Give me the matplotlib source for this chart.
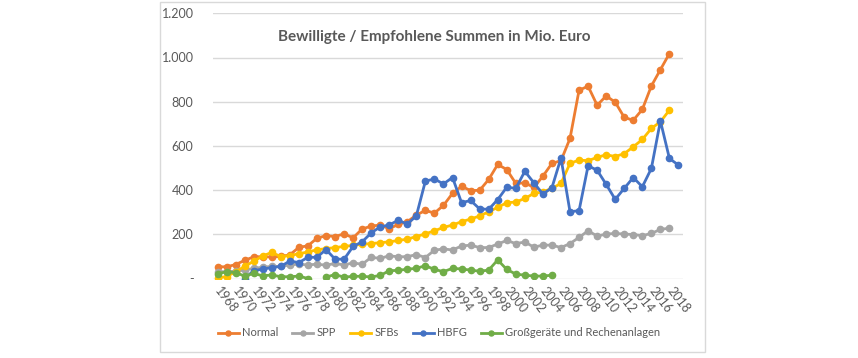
import numpy as np
import matplotlib
matplotlib.use("Agg")
import matplotlib.pyplot as plt
from matplotlib.patches import Rectangle

nan = np.nan

# Jahre 1968 - 2019
years = list(range(1968, 2020))

normal = [53, 53, 63, 82, 98, 99, 97, 100, 107, 141, 148, 182, 194, 190, 202, 184,
          224, 237, 242, 225, 245, 257, 287, 308, 296, 331,
          385, 417, 398, 399, 448, 516, 493, 430, 433, 412, 463, 521, 533,
          634, 852, 870, 784, 826, 798, 729, 716, 765, 871, 945, 1018, nan]

spp = [31, 31, 33, 38, 46, 51, 55, 55, 61, 65, 61, 65, 60, 68, 61, 71, 64, 96, 91,
       103, 98, 99, 108, 95, 128, 134,
       129, 147, 151, 140, 140, 156, 172, 158, 165, 142, 151, 151, 140,
       158, 186, 216, 192, 201, 204, 201, 199, 194, 204, 222, 228, nan]

sfbs = [2, 9, 30, 55, 78, 102, 118, 99, 104, 112, 120, 130, 135, 140, 145, 150, 155,
        158, 162, 166, 172, 178, 190, 202, 216, 231,
        242, 257, 269, 283, 302, 322, 343, 346, 362, 385, 392, 408, 430,
        521, 536, 533, 548, 560, 552, 565, 596, 629, 679, 709, 762, nan]

hbfg = [nan, nan, nan, 0, 35, 43, 49, 55, 79, 72, 96, 96, 131, 88, 87, 145, 166,
        206, 234, 242, 264, 246, 284, 441, 450, 428,
        457, 343, 353, 315, 313, 357, 413, 408, 485, 433, 382, 411, 545,
        302, 307, 510, 490, 426, 358, 408, 457, 415, 498, 713, 543, 513]

grossgeraete = [22, 30, 27, 11, 23, 12, 16, 8, 8, 11, 0, nan, 6, 18, 6, 10, 10, 7,
                14, 35, 37, 42, 46, 58, 41, 31,
                46, 43, 38, 33, 38, 84, 41, 20, 15, 11, 11, 15] + [nan] * 14

series = [("Normal", normal, "#ED7D31"),
          ("SPP", spp, "#A5A5A5"),
          ("SFBs", sfbs, "#FFC000"),
          ("HBFG", hbfg, "#4472C4"),
          ("Großgeräte und Rechenanlagen", grossgeraete, "#70AD47")]

yticks = [0, 200, 400, 600, 800, 1000, 1200]
ytick_labels = ["-", "200", "400", "600", "800", "1.000", "1.200"]

plt.rcParams['font.family'] = ['Lato', 'DejaVu Sans']
txt_col = "#595959"

fig = plt.figure(figsize=(8.58, 3.58), dpi=100)
ax = fig.add_axes([213/858, 1-278.5/358, 470/858, (278.5-13.3)/358])

x = np.arange(len(years))
for name, vals, col in series:
    ax.plot(x, np.array(vals, dtype=float), color=col, lw=2, marker='o',
            markersize=4.5, label=name)

ax.set_xlim(-0.5, len(years) - 0.5)
ax.set_ylim(0, 1200)
ax.set_yticks(yticks)
ax.set_yticklabels(ytick_labels)
ax.yaxis.grid(True, color="#D9D9D9", lw=1)
ax.set_axisbelow(True)
for s in ax.spines.values():
    s.set_visible(False)

ax.set_xticks(x[:-1:2])
ax.set_xticklabels([str(y) for y in years[:-1:2]], rotation=-52,
                   rotation_mode='anchor', ha='left', va='center')
ax.tick_params(axis='x', length=0, pad=7, labelsize=9, labelcolor=txt_col)
ax.tick_params(axis='y', length=0, pad=14, labelsize=9, labelcolor=txt_col)

fig.text(434/858, 1-37/358, "Bewilligte / Empfohlene Summen in Mio. Euro",
         ha='center', va='center', fontsize=11, fontweight='bold', color=txt_col)

leg = fig.legend(loc='center', bbox_to_anchor=(439/858, 1-333/358), ncol=5,
                 frameon=False, fontsize=8, handlelength=1.9, handletextpad=0.3,
                 columnspacing=1.25, markerscale=0.8)
for t in leg.get_texts():
    t.set_color(txt_col)

fig.patches.append(Rectangle((160/858, 1-352/358), (705-160)/858, 350/358,
                             transform=fig.transFigure, fill=False,
                             edgecolor="#D9D9D9", lw=1))

plt.savefig("out.png", dpi=100)
plt.close()
